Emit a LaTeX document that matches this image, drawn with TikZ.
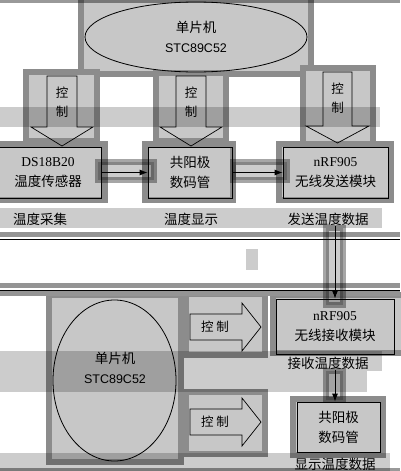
\documentclass[tikz,border=0pt]{standalone}
\usepackage{fontspec}
\setmainfont{Liberation Serif}
\setsansfont{Liberation Sans}
\newfontfamily\cjk{Noto Sans CJK SC}
\usetikzlibrary{arrows.meta,positioning,shapes.geometric}
\tikzset{
  node-box/.style={draw,line width=0.8pt,inner sep=0pt,align=center,font=\fontsize{13.5}{20}\selectfont},
  node-mcu/.style={draw,ellipse,line width=0.8pt,inner sep=0pt,align=center,font=\fontsize{13.5}{20}\selectfont},
  node-lbl/.style={inner sep=1pt,font=\cjk\fontsize{13.5}{16}\selectfont},
  node-ctl/.style={inner sep=0pt,align=center,font=\cjk\fontsize{12.5}{19}\selectfont},
  ctrl/.style={draw,line width=0.7pt,line join=miter},
  flow/.style={-{Latex[length=8pt,width=6pt]},line width=0.8pt},
  frame/.style={draw=black!45,fill=black!22,line width=6pt},
  band/.style={fill=black,fill opacity=0.2},
  band-d/.style={fill=black,fill opacity=0.4},
  bar/.style={draw=black,draw opacity=0.35,line width=6pt,fill=black,fill opacity=0.2},
  bandline/.style={fill=black!42},
}

\begin{document}
\begin{tikzpicture}[x=1pt,y=-1pt]
  \useasboundingbox (0,0) rectangle (400,471);

  % FRAMES: sending side
  \draw[frame] (81,-5)   rectangle (311,74);
  \draw[frame] (26,72)   rectangle (97,141);
  \draw[frame] (156,73)  rectangle (226,141);
  \draw[frame] (303,68)  rectangle (373,147);
  \draw[frame] (-5,144)  rectangle (105,200);
  \draw[frame] (145,144) rectangle (233,200);
  \draw[frame] (279,144) rectangle (391,200);

  % FRAMES: receiving side
  \draw[frame] (49,295)  rectangle (181,462);
  \draw[frame] (186,294) rectangle (265,355);
  \draw[frame] (186,392) rectangle (265,454);
  \draw[frame] (273,295) rectangle (405,353);
  \draw[frame] (293,399) rectangle (383,455);

  % BANDS
  \fill[band-d] (0,0)     rectangle (400,3);
  \fill[band]   (0,107)   rectangle (380,127);
  \fill[band]   (0,208)   rectangle (382,228);
  \fill[bandline] (0,232) rectangle (400,237);
  \fill[bandline] (0,283) rectangle (400,288);
  \fill[bandline] (0,291) rectangle (400,296);
  \draw[line width=0.8pt] (0,239) -- (400,239);
  \draw[line width=0.8pt] (0,290) -- (400,290);
  \fill[band]   (246,249) rectangle (258,270);
  \fill[band]   (0,351)   rectangle (367,392);
  \fill[band]   (367,351) rectangle (382,371);
  \fill[band]   (0,453)   rectangle (390,471);
  \fill[band-d] (0,468)   rectangle (400,471);

  % BARS under the connectors
  \draw[bar] (98,162)  rectangle (154,180);
  \draw[bar] (233,162) rectangle (287,180);
  \draw[bar] (326,228) rectangle (343,305);
  \draw[bar] (326,371) rectangle (343,400);

  % SENDING SIDE
  \node[node-mcu,minimum width=222,minimum height=70] (mcu1) at (196,37)
    {{\cjk 单片机}\\{\sffamily\fontsize{12.5}{20}\selectfont STC89C52}};

  \draw[ctrl] (47,76) -- (77,76) -- (77,127) -- (93,127) -- (62,146) -- (31,127) -- (47,127) -- cycle;
  \draw[ctrl] (176,76) -- (206,76) -- (206,127) -- (222,127) -- (191,146) -- (160,127) -- (176,127) -- cycle;
  \draw[ctrl] (323,72) -- (352,72) -- (352,126) -- (369,126) -- (337.5,143) -- (306,126) -- (323,126) -- cycle;
  \node[node-ctl] (ctl1) at (62,102)  {控\\制};
  \node[node-ctl] (ctl2) at (191,102) {控\\制};
  \node[node-ctl] (ctl3) at (337.5,98) {控\\制};

  \node[node-box,minimum width=106,minimum height=51] (ds)   at (48,172.5)
    {DS18B20\\{\cjk 温度传感器}};
  \node[node-box,minimum width=84,minimum height=51]  (seg1) at (190,172.5)
    {{\cjk 共阳极}\\{\cjk 数码管}};
  \node[node-box,minimum width=105,minimum height=51] (tx)   at (335.5,172.5)
    {nRF905\\{\cjk 无线发送模块}};
  \draw[flow] (ds) -- (seg1);
  \draw[flow] (seg1) -- (tx);

  \node[node-lbl] (lbl-ds)   at (40,219)  {温度采集};
  \node[node-lbl] (lbl-seg1) at (191,219) {温度显示};
  \node[node-lbl] (lbl-tx)   at (328,219) {发送温度数据};

  % RECEIVING SIDE
  \node[node-box,minimum width=118,minimum height=55] (rx)   at (335,326.5)
    {nRF905\\{\cjk 无线接收模块}};
  \node[node-box,minimum width=83,minimum height=50]  (seg2) at (338.5,427)
    {{\cjk 共阳极}\\{\cjk 数码管}};
  \draw[flow] (rx.north |- lbl-tx.south) -- (rx.north);

  \node[node-lbl] (lbl-rx)   at (328,363) {接收温度数据};
  \node[node-lbl] (lbl-seg2) at (335,464) {显示温度数据};
  \draw[flow] (rx.south |- lbl-rx.south) -- (rx.south |- seg2.north);

  \node[node-mcu,minimum width=123,minimum height=161] (mcu2) at (114.5,380.5) {};
  \node[node-box,draw=none] (mcu2-txt) at (115,368)
    {{\cjk 单片机}\\{\sffamily\fontsize{12.5}{20}\selectfont STC89C52}};

  \draw[ctrl] (190,314) -- (242,314) -- (242,303) -- (261,327) -- (242,351) -- (242,340) -- (190,340) -- cycle;
  \draw[ctrl] (190,409) -- (242,409) -- (242,398) -- (261,422) -- (242,446) -- (242,435) -- (190,435) -- cycle;
  \node[node-ctl] (ctl4) at (215,327) {控 制};
  \node[node-ctl] (ctl5) at (215,422) {控 制};

\end{tikzpicture}
\end{document}
